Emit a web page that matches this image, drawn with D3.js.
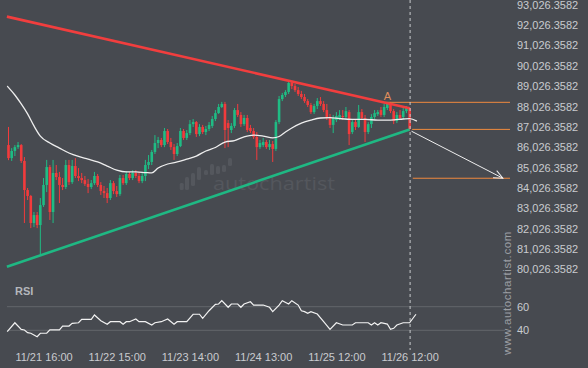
<!DOCTYPE html>
<html>
<head>
<meta charset="utf-8">
<script src="https://d3js.org/d3.v7.min.js"></script>
<style>
html, body { margin: 0; padding: 0; background: #474a50; }
svg { display: block; font-family: "Liberation Sans", Arial, sans-serif; }
</style>
</head>
<body>
<svg id="chart" width="588" height="368"></svg>
<script>
// hourly candles, [open, high, low, close]
const candles = [
  [86130,87020,85390,85490],[85490,85980,85350,85840],[85840,86130,85590,86030],[86030,86280,85940,86130],
  [86130,86180,85250,85350],[85350,85540,82300,83920],[83920,84020,83430,83630],[83630,83680,82050,82300],
  [82300,82840,82100,82690],[82690,82840,82050,82200],[82200,83530,80730,83180],[83180,84510,83090,84170],
  [84170,85400,83820,85050],[85050,85150,82450,82840],[82840,85400,82300,84760],[84760,85150,84410,84560],
  [84560,84810,83280,84170],[84170,84510,83920,84070],[84070,85400,83970,85150],[85150,85400,84170,84310],
  [84310,85400,84220,85100],[85100,85490,84510,84610],[84610,85000,84360,84510],[84510,84760,84260,84410],
  [84410,84610,84120,84220],[84220,84460,83770,84070],[84070,84410,83970,84260],[84260,84810,84170,84610],
  [84610,84710,84070,84170],[84170,84310,83680,83870],[83870,84120,83530,83770],[83770,84020,83280,83530],
  [83530,84410,83430,84260],[84260,84360,83720,83870],[83870,84120,83580,83720],[83720,84660,83630,84510],
  [84510,84660,84170,84260],[84260,84850,84170,84710],[84710,84810,84410,84510],[84510,84900,84410,84760],
  [84760,84900,84510,84610],[84610,84810,84260,84360],[84360,84810,84260,84610],[84610,85400,84360,85150],
  [85150,85640,84950,85300],[85300,85890,85150,85790],[85790,86620,85690,86230],[86230,86530,85980,86380],
  [86380,86480,86030,86130],[86130,86970,86030,86820],[86820,86920,86180,86280],[86280,86480,85890,86030],
  [86030,86180,85400,85690],[85690,86230,85590,86080],[86080,86970,86030,86820],[86820,86920,86380,86480],
  [86480,86870,86380,86720],[86720,87360,86620,87160],[87160,87410,87020,87260],[87260,87310,86530,86670],
  [86670,87160,86570,87020],[87020,87120,86670,86770],[86770,87070,86620,86920],[86920,87260,86820,87120],
  [87070,87560,86970,87410],[87410,87850,87310,87700],[87700,88150,87660,88000],[88000,88250,87950,88150],
  [88150,88250,85980,86870],[87210,87360,86030,86970],[86870,87210,86720,87070],[87070,87950,86970,87850],
  [87850,88150,87510,87610],[87610,87750,87020,87160],[87160,87610,87070,87460],[87460,87610,86770,86870],
  [86970,87120,86720,86820],[86820,86970,86430,86530],[86530,86770,85400,86030],[86030,86380,85940,86230],
  [86130,86480,86030,86280],[86280,86380,85940,86030],[86030,86380,85890,86180],[86180,86330,85300,85940],
  [85940,87360,85840,87260],[87260,88540,87160,88390],[88390,88690,88290,88590],[88590,88830,88490,88740],
  [88740,89280,88640,89180],[89180,89280,88880,89030],[89030,89130,88740,88830],[88830,88980,88540,88640],
  [88640,88790,88390,88490],[88490,88640,88200,88290],[88290,88390,88000,88100],[88100,88200,87660,87750],
  [87750,88150,87660,88050],[88050,88440,87900,88290],[88290,88490,88050,88150],[88150,88290,87750,87850],
  [87850,88150,87360,87510],[87510,87660,86970,87120],[87120,87610,86720,87460],[87360,87750,87260,87560],
  [87460,87850,87360,87610],[87560,87850,87360,87510],[87510,88000,87410,87800],[87750,87850,86130,86670],
  [86770,87360,86670,87260],[87260,87410,86870,87020],[87020,88100,86970,87750],[87750,87900,87360,87460],
  [87460,87610,86280,86770],[86770,87260,86670,87160],[87160,87650,86970,87510],[87510,87850,87410,87700],
  [87650,87850,87560,87750],[87850,88000,87510,87610],[87610,88150,87510,88000],[87950,88250,87850,88200],
  [88150,88250,87700,87800],[87800,87900,87160,87310],[87310,87750,87210,87610],[87610,87850,87360,87460],
  [87510,87950,87410,87800],[87800,88050,87700,87950],[87950,88000,86820,86920]
];

// moving average, [candle index, price]
const movingAvg = [
  [-0.4,89030],[2,88590],[4,88150],[6,87660],[8,87070],[10,86570],[13,86230],[16,85980],[19,85740],
  [22,85570],[25,85440],[28,85300],[31,85100],[34,84900],[37,84810],[40,84810],[43,84780],[45,84760],
  [47,85000],[50,85200],[53,85300],[56,85440],[59,85590],[62,85840],[65,86010],[68,86280],[71,86350],
  [74,86530],[77,86620],[80,86570],[83,86480],[85,86550],[87,86770],[89,86970],[92,87210],[95,87360],
  [98,87460],[101,87480],[104,87430],[108,87390],[112,87390],[116,87360],[120,87360],[124,87410],
  [126,87430],[128.3,87310]
];

// RSI turning points, [candle index, value]
const rsi = [
  [-0.4,38.8],[2,46.4],[4,40.8],[5,40.3],[6,38],[7,37.5],[9,34.6],[10,37.5],[12,37.5],[13,40.3],
  [16,40.3],[17,43.6],[19,43.6],[20,45.9],[22,46.4],[23,49.3],[26,49.3],[27,53],[29,48.1],[31,45.1],
  [32,47.3],[35,47.3],[36,45.1],[37,47.3],[38,47.3],[40,49.6],[41,47.3],[43,47.3],[45,44.5],[46,46.4],
  [48,47.3],[50,49.6],[52,45.1],[53,47.3],[56,47.3],[58,53.6],[60,53.6],[61,50.2],[63,56.6],[65,62],
  [66,62.3],[67,65.1],[69,59.5],[70,62.3],[72,62.3],[73,59.5],[74,62.3],[76,64.2],[77,61.4],[80,61.4],
  [82,59.5],[83,55.8],[85,61.4],[86,65.1],[88,62.3],[89,65.1],[91,61.4],[92,56.6],[93,55.8],[94,54.4],
  [95,55.8],[97,53.8],[99,47.3],[101,40.8],[103,46.4],[105,44.5],[108,44.5],[109,46.4],[113,46.4],
  [114,44.5],[115,46.4],[116,44.5],[117,46.4],[119,45.3],[120,40.8],[121,41.7],[122,44.5],[124,46.4],
  [126,46.4],[128,53.6]
];

const priceTicks = [80026.3582, 81026.3582, 82026.3582, 83026.3582, 84026.3582, 85026.3582, 86026.3582,
  87026.3582, 88026.3582, 89026.3582, 90026.3582, 91026.3582, 92026.3582, 93026.3582];
const rsiTicks = [40, 60];
const timeTicks = [11, 34, 57, 80, 103, 126];
const timeLabels = ['11/21 16:00', '11/22 15:00', '11/23 14:00', '11/24 13:00', '11/25 12:00', '11/26 12:00'];

const resistance = [[-0.5, 92440], [126, 87940]];
const support = [[-0.5, 80150], [126, 86900]];
const levels = [[118.3, 88230], [126.8, 86900], [127, 84500]];
const forecast = [[126.6, 86810], [155.3, 84500]];
const pointA = [119, 88560];
const lastBar = 126;

const svg = d3.select('#chart');
const W = 588, H = 368;
const plotRight = 510;

svg.append('rect').attr('width', W).attr('height', H).attr('fill', '#474a50');

const x = d3.scaleLinear().domain([0, 126]).range([8.5, 409.6]);
const y = d3.scaleLinear().domain([80026.3582, 93026.3582]).range([269.3, 4.7]);
const yR = d3.scaleLinear().domain([40, 60]).range([330.3, 306.7]);

// watermark logo
const wm = svg.append('g').attr('fill', '#54575d');
const logoBars = [[181.7,183,190],[187,177,190],[193,173,186],[199,167,180],[206,170,175],[212,164,175],[218,166,174],[224,165,172],[230,158,166]];
wm.selectAll('rect').data(logoBars).join('rect')
  .attr('x', d => d[0] - 2).attr('width', 4)
  .attr('y', d => d[1]).attr('height', d => d[2] - d[1])
  .attr('rx', 1.5);
wm.append('text').attr('x', 213).attr('y', 190)
  .attr('font-family', '"Open Sans", sans-serif').attr('font-size', 19)
  .attr('textLength', 122).attr('lengthAdjust', 'spacingAndGlyphs')
  .text('autochartist');

// rsi guide lines
svg.append('g').selectAll('line').data(rsiTicks).join('line')
  .attr('x1', 7).attr('x2', 505)
  .attr('y1', d => yR(d)).attr('y2', d => yR(d))
  .attr('stroke', '#63666b').attr('stroke-width', 1);

// candles
const up = '#1fbc84', down = '#f23b3c';
const cg = svg.append('g');
const bar = cg.selectAll('g').data(candles).join('g');
bar.append('line')
  .attr('x1', (d, i) => x(i)).attr('x2', (d, i) => x(i))
  .attr('y1', d => y(d[1])).attr('y2', d => y(d[2]))
  .attr('stroke', d => d[3] >= d[0] ? up : down).attr('stroke-width', 1);
bar.append('rect')
  .attr('x', (d, i) => x(i) - 1.3).attr('width', 2.6)
  .attr('y', d => y(Math.max(d[0], d[3])))
  .attr('height', d => Math.max(1, Math.abs(y(d[0]) - y(d[3]))))
  .attr('fill', d => d[3] >= d[0] ? up : down);

const line = d3.line().x(d => x(d[0])).y(d => y(d[1]));

svg.append('path').datum(movingAvg).attr('d', line.curve(d3.curveMonotoneX))
  .attr('fill', 'none').attr('stroke', '#eeeeee').attr('stroke-width', 1.3);
line.curve(d3.curveLinear);

// levels
svg.append('g').selectAll('line').data(levels).join('line')
  .attr('x1', d => x(d[0])).attr('x2', plotRight)
  .attr('y1', d => y(d[1])).attr('y2', d => y(d[1]))
  .attr('stroke', '#f08a3e').attr('stroke-width', 1);

// trend lines
svg.append('path').datum(resistance).attr('d', line)
  .attr('stroke', '#f13e3e').attr('stroke-width', 2.6).attr('fill', 'none');
svg.append('path').datum(support).attr('d', line)
  .attr('stroke', '#1fb883').attr('stroke-width', 2.6).attr('fill', 'none');

svg.append('text').attr('x', x(pointA[0])).attr('y', y(pointA[1]) + 4)
  .attr('text-anchor', 'middle').attr('font-size', 11).attr('fill', '#e08e5c').text('A');

// forecast arrow
const defs = svg.append('defs');
defs.append('marker').attr('id', 'head').attr('viewBox', '-10 -6 12 12')
  .attr('markerWidth', 12).attr('markerHeight', 12).attr('markerUnits', 'userSpaceOnUse')
  .attr('orient', 'auto').attr('refX', 0).attr('refY', 0)
  .append('path').attr('d', 'M-9,-4L0,0L-9,4').attr('fill', 'none').attr('stroke', '#eeeeee').attr('stroke-width', 1);
svg.append('path').datum(forecast).attr('d', line)
  .attr('stroke', '#eeeeee').attr('stroke-width', 1).attr('fill', 'none')
  .attr('marker-end', 'url(#head)');

// current bar marker
svg.append('line')
  .attr('x1', x(lastBar) + 0.5).attr('x2', x(lastBar) + 0.5).attr('y1', 0).attr('y2', 350)
  .attr('stroke', '#c9cbce').attr('stroke-width', 1).attr('stroke-dasharray', '3,3');

// rsi
svg.append('path').datum(rsi)
  .attr('d', d3.line().x(d => x(d[0])).y(d => yR(d[1])))
  .attr('fill', 'none').attr('stroke', '#f2f2f2').attr('stroke-width', 1.2);

svg.append('text').attr('x', 15).attr('y', 295).attr('font-size', 11).attr('font-weight', 'bold')
  .attr('fill', '#b4b7bc').text('RSI');

// axes
const styleAxis = g => {
  g.select('.domain').remove();
  g.selectAll('text').attr('fill', '#c9cbcf').attr('font-size', 11)
    .attr('font-family', '"Liberation Sans", Arial, sans-serif');
};
svg.append('g').attr('transform', `translate(514,0)`)
  .call(d3.axisRight(y).tickValues(priceTicks).tickFormat(d3.format(',.4f')).tickSize(0).tickPadding(3))
  .call(styleAxis);
svg.append('g').attr('transform', `translate(514,0)`)
  .call(d3.axisRight(yR).tickValues(rsiTicks).tickSize(0).tickPadding(3))
  .call(styleAxis);
svg.append('g').attr('transform', `translate(0,345)`)
  .call(d3.axisBottom(x).tickValues(timeTicks).tickFormat((d, i) => timeLabels[i]).tickSize(0).tickPadding(8))
  .call(styleAxis);

svg.append('text').attr('transform', 'translate(511,293) rotate(-90)')
  .attr('text-anchor', 'middle').attr('font-size', 11.5).attr('fill', '#9b9ea3')
  .attr('letter-spacing', 0.6).text('www.autochartist.com');
</script>
</body>
</html>
